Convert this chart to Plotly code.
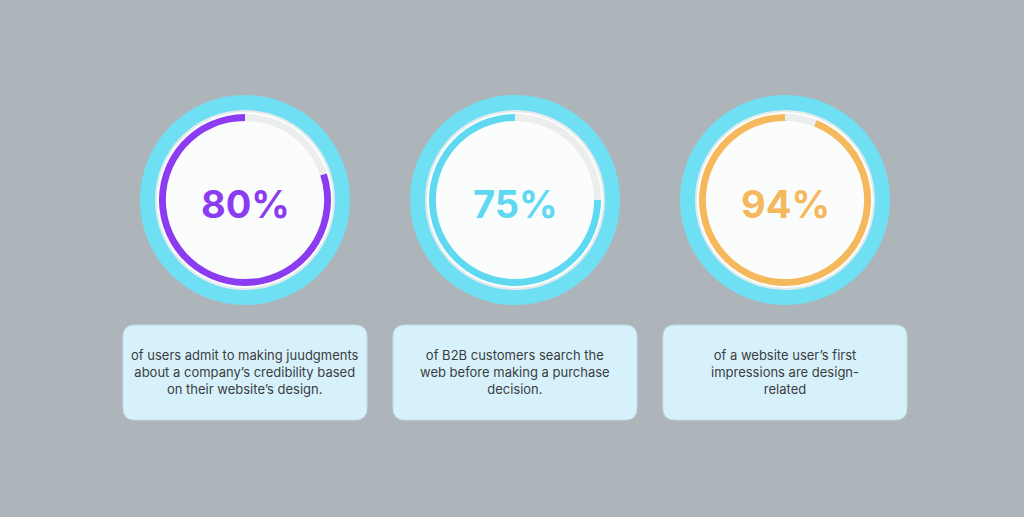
import plotly.graph_objects as go

percents = [80, 75, 94]
labels = ["80%", "75%", "94%"]
captions = [
    "of users admit to making juudgments<br>about a company’s credibility based<br>on their website’s design.",
    "of B2B customers search the<br>web before making a purchase<br>decision.",
    "of a website user’s first<br>impressions are design-<br>related",
]
colors = ["#8b3cf0", "#5fd8f2", "#f5b95c"]

W, H = 1024, 517
cx = [245, 515, 785]
cy = 200

fig = go.Figure()
shapes = []

def rrect(x0, y0, x1, y1, r):
    return (f"M{x0+r},{y0} L{x1-r},{y0} Q{x1},{y0} {x1},{y0+r} L{x1},{y1-r} Q{x1},{y1} {x1-r},{y1} "
            f"L{x0+r},{y1} Q{x0},{y1} {x0},{y1-r} L{x0},{y0+r} Q{x0},{y0} {x0+r},{y0} Z")

for i, c in enumerate(cx):
    shapes.append(dict(type="circle", xref="x", yref="y", x0=c-105, x1=c+105, y0=cy-105, y1=cy+105,
                       fillcolor="#6fe0f4", line=dict(width=0), layer="below"))
    shapes.append(dict(type="circle", xref="x", yref="y", x0=c-89, x1=c+89, y0=cy-89, y1=cy+89,
                       fillcolor="#fbfdfd", line=dict(color="#e4eaec", width=2), layer="below"))
    shapes.append(dict(type="path", xref="x", yref="y", path=rrect(c-122, 325, c+122, 420, 12),
                       fillcolor="#d7f1fb", line=dict(color="#c3dde8", width=1), layer="below"))
    r = 86
    fig.add_trace(go.Pie(values=[100-percents[i], percents[i]], sort=False, direction="clockwise",
                         rotation=0, hole=0.92, textinfo="none", hoverinfo="skip", showlegend=False,
                         marker=dict(colors=["#eceeee", colors[i]], line=dict(width=0)),
                         domain=dict(x=[(c-r)/W, (c+r)/W], y=[1-(cy+r)/H, 1-(cy-r)/H])))
    fig.add_annotation(x=c, y=cy+4, xref="x", yref="y", text=f"<b>{labels[i]}</b>", showarrow=False,
                       font=dict(size=38, color=colors[i], family="Inter", weight=800))
    fig.add_annotation(x=c, y=372, xref="x", yref="y", text=captions[i], showarrow=False,
                       font=dict(size=13, color="#3a3d40", family="Inter"), align="center")

fig.update_layout(width=W, height=H, margin=dict(l=0, r=0, t=0, b=0),
                  paper_bgcolor="#adb5bb", plot_bgcolor="#adb5bb", shapes=shapes,
                  xaxis=dict(range=[0, W], visible=False, fixedrange=True),
                  yaxis=dict(range=[H, 0], visible=False, fixedrange=True))
fig.write_html("out.html", config={"displayModeBar": False},
               post_script="document.body.style.margin='0';document.body.style.overflow='hidden';")
